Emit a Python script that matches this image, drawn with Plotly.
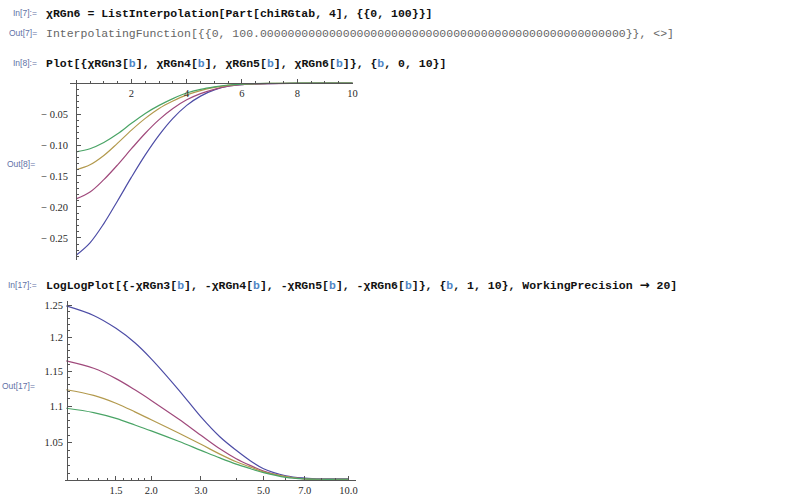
import plotly.graph_objects as go

W, H = 800, 501

# ---------------- data: Plot (top) ----------------
b_lin = [0, 0.5, 1, 1.5, 2, 2.5, 3, 3.5, 4, 4.5, 5, 5.5, 6, 7, 8, 9, 10]
chiRGn3 = [-0.278, -0.258, -0.227, -0.190, -0.152, -0.116, -0.084, -0.057, -0.036,
           -0.021, -0.011, -0.005, -0.0025, -0.0008, -0.0002, 0.0, 0.0]
chiRGn4 = [-0.187, -0.176, -0.156, -0.132, -0.106, -0.081, -0.059, -0.041, -0.027,
           -0.017, -0.010, -0.005, -0.0025, -0.0007, -0.0002, 0.0, 0.0]
chiRGn5 = [-0.140, -0.132, -0.117, -0.097, -0.076, -0.057, -0.041, -0.029, -0.019,
           -0.012, -0.007, -0.0035, -0.0017, -0.0005, -0.0001, 0.0, 0.0]
chiRGn6 = [-0.111, -0.106, -0.096, -0.082, -0.065, -0.049, -0.036, -0.025, -0.016,
           -0.010, -0.006, -0.003, -0.0015, -0.0005, -0.0001, 0.0, 0.0]

# ---------------- data: LogLogPlot (bottom) ----------------
b_log = [1, 1.25, 1.5, 1.75, 2, 2.5, 3, 3.5, 4, 4.5, 5, 6, 7, 8, 9, 10]
negRGn3 = [1.249, 1.234, 1.214, 1.192, 1.168, 1.123, 1.085, 1.058, 1.040, 1.026,
           1.016, 1.007, 1.004, 1.003, 1.003, 1.003]
negRGn4 = [1.165, 1.154, 1.139, 1.123, 1.108, 1.082, 1.060, 1.042, 1.029, 1.020,
           1.013, 1.006, 1.003, 1.0025, 1.0025, 1.0025]
negRGn5 = [1.123, 1.115, 1.104, 1.092, 1.081, 1.063, 1.048, 1.035, 1.025, 1.018,
           1.012, 1.006, 1.003, 1.0025, 1.0025, 1.0025]
negRGn6 = [1.097, 1.091, 1.083, 1.074, 1.066, 1.052, 1.040, 1.030, 1.022, 1.016,
           1.011, 1.005, 1.003, 1.0025, 1.0025, 1.0025]

# ticks
top_x_ticks = [2, 4, 6, 8, 10]
top_x_labels = ["2", "4", "6", "8", "10"]
top_y_ticks = [-0.05, -0.10, -0.15, -0.20, -0.25]
top_y_labels = ["\u2212 0.05", "\u2212 0.10", "\u2212 0.15", "\u2212 0.20", "\u2212 0.25"]
bot_x_ticks = [1.5, 2.0, 3.0, 5.0, 7.0, 10.0]
bot_x_labels = ["1.5", "2.0", "3.0", "5.0", "7.0", "10.0"]
bot_x_minor = [1.1, 1.2, 1.3, 1.4, 1.6, 1.7, 1.8, 1.9, 4.0, 6.0, 8.0, 9.0]
bot_y_ticks = [1.05, 1.1, 1.15, 1.2, 1.25]
bot_y_labels = ["1.05", "1.1", "1.15", "1.2", "1.25"]

colors = ["#4d4da6", "#a04a7c", "#b39a4e", "#4aa466"]

def fx(p):
    return p / W

def fy(p):
    return 1 - p / H

fig = go.Figure()
for ys, c in zip([chiRGn3, chiRGn4, chiRGn5, chiRGn6], colors):
    fig.add_trace(go.Scatter(x=b_lin, y=ys, mode="lines", xaxis="x", yaxis="y",
                             line=dict(color=c, width=1.2, shape="spline", smoothing=1.0),
                             showlegend=False, hoverinfo="skip"))
for ys, c in zip([negRGn3, negRGn4, negRGn5, negRGn6], colors):
    fig.add_trace(go.Scatter(x=b_log, y=ys, mode="lines", xaxis="x2", yaxis="y2",
                             line=dict(color=c, width=1.2, shape="spline", smoothing=1.0),
                             showlegend=False, hoverinfo="skip"))

axcol = "#555555"
tickfont = dict(family="Liberation Serif", size=10.5, color="#2a2a2a")

top_y_minor = [round(-0.01 * k, 2) for k in range(1, 29) if k % 5 != 0]
bot_y_minor = [round(1 + 0.01 * k, 2) for k in range(1, 26) if k % 5 != 0]

fig.update_layout(
    width=W, height=H, margin=dict(l=0, r=0, t=0, b=0),
    paper_bgcolor="white", plot_bgcolor="white", showlegend=False,
    xaxis=dict(domain=[fx(70), fx(355.3)], range=[-0.24, 10.02], anchor="free",
               position=fy(82.3), side="bottom", showgrid=False, zeroline=False,
               showline=True, linecolor=axcol, linewidth=1,
               tickmode="array", tickvals=top_x_ticks, ticktext=top_x_labels,
               ticks="inside", ticklen=4, tickcolor=axcol, tickfont=tickfont,
               minor=dict(tickvals=[0.5 * k for k in range(1, 20) if k % 4 != 0],
                          ticks="inside", ticklen=2, tickcolor=axcol)),
    yaxis=dict(domain=[fy(260), fy(79)], range=[-0.2866, 0.0053], anchor="free",
               position=fx(76.7), side="left", showgrid=False, zeroline=False,
               showline=True, linecolor=axcol, linewidth=1,
               tickmode="array", tickvals=top_y_ticks, ticktext=top_y_labels,
               ticks="inside", ticklen=4, tickcolor=axcol, tickfont=tickfont,
               ticklabelstandoff=6,
               minor=dict(tickvals=top_y_minor, ticks="inside", ticklen=2, tickcolor=axcol)),
    xaxis2=dict(type="log", domain=[fx(65), fx(358)], range=[-0.006, 1.0257], anchor="free",
                position=fy(480), side="bottom", showgrid=False, zeroline=False,
                showline=True, linecolor=axcol, linewidth=1,
                tickmode="array", tickvals=bot_x_ticks, ticktext=bot_x_labels,
                ticks="inside", ticklen=4, tickcolor=axcol, tickfont=tickfont,
                minor=dict(tickvals=bot_x_minor, ticks="inside", ticklen=2, tickcolor=axcol)),
    yaxis2=dict(type="log", domain=[fy(481), fy(301)], range=[0.00011, 0.09906], anchor="free",
                position=fx(67.5), side="left", showgrid=False, zeroline=False,
                showline=True, linecolor=axcol, linewidth=1,
                tickmode="array", tickvals=bot_y_ticks, ticktext=bot_y_labels,
                ticks="inside", ticklen=4, tickcolor=axcol, tickfont=tickfont,
                ticklabelstandoff=2,
                minor=dict(tickvals=bot_y_minor, ticks="inside", ticklen=2, tickcolor=axcol)),
)

labcol = "#6272a6"
labfont = dict(family="Liberation Sans", size=8.5, color=labcol)
codefont = dict(family="Liberation Mono", size=11.5, color="#111111")
outfont = dict(family="Liberation Mono", size=11.5, color="#666666")
bc = "#4f86c6"
B = f"<span style='color:{bc}'>b</span>"
ARROW = "<span style='font-family:DejaVu Sans;font-size:12px'>\u2192</span>"

labels = [
    ("In[7]:=", 39.5, 12.5), ("Out[7]=", 39.5, 32.5), ("In[8]:=", 39.5, 62.5),
    ("Out[8]=", 37.5, 163.5), ("In[17]:=", 39.5, 285), ("Out[17]=", 37.5, 385.5),
]
for t, x, y in labels:
    fig.add_annotation(text=t, x=fx(x), y=fy(y), xref="paper", yref="paper",
                       xanchor="right", yanchor="middle", showarrow=False, font=labfont)

zeros = "0" * 53
code_lines = [
    ("<b>\u03c7RGn6 = ListInterpolation[Part[chiRGtab, 4], {{0, 100}}]</b>", 12.5, codefont),
    ("InterpolatingFunction[{{0, 100." + zeros + "}}, &lt;&gt;]", 32.5, outfont),
    (f"<b>Plot[{{\u03c7RGn3[{B}], \u03c7RGn4[{B}], \u03c7RGn5[{B}], \u03c7RGn6[{B}]}}, {{{B}, 0, 10}}]</b>",
     62.5, codefont),
    (f"<b>LogLogPlot[{{-\u03c7RGn3[{B}], -\u03c7RGn4[{B}], -\u03c7RGn5[{B}], -\u03c7RGn6[{B}]}}, "
     f"{{{B}, 1, 10}}, WorkingPrecision {ARROW} 20]</b>", 285, codefont),
]
for t, y, f in code_lines:
    fig.add_annotation(text=t, x=fx(44.5), y=fy(y), xref="paper", yref="paper",
                       xanchor="left", yanchor="middle", showarrow=False, font=f)

fig.write_html("out.html", config={"displayModeBar": False},
               post_script="document.body.style.margin='0';document.body.style.overflow='hidden';")
